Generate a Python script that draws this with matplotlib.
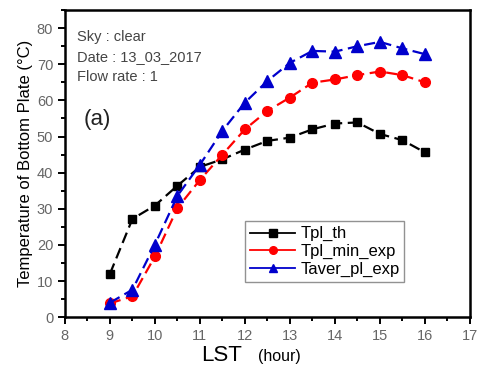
import matplotlib
matplotlib.use("Agg")
import matplotlib.pyplot as plt
from matplotlib.lines import Line2D
from matplotlib.ticker import MultipleLocator

# data
lst = [9, 9.5, 10, 10.5, 11, 11.5, 12, 12.5, 13, 13.5, 14, 14.5, 15, 15.5, 16]
tpl_th = [12.0, 27.2, 30.9, 36.4, 41.6, 43.7, 46.4, 48.8, 49.7, 52.0, 53.6, 53.9, 50.7, 49.0, 45.6]
tpl_min_exp = [3.8, 5.8, 16.8, 30.2, 38.0, 45.0, 52.0, 57.1, 60.8, 64.9, 65.8, 67.0, 68.0, 67.0, 65.0]
taver_pl_exp = [4.0, 7.6, 20.1, 33.6, 42.2, 51.6, 59.4, 65.4, 70.4, 73.7, 73.5, 75.0, 76.2, 74.4, 72.8]

series = [
    ("Tpl_th", tpl_th, "black", "s", 6),
    ("Tpl_min_exp", tpl_min_exp, "red", "o", 7),
    ("Taver_pl_exp", taver_pl_exp, "#0000cc", "^", 8),
]

plt.rcParams["font.family"] = ["Liberation Sans", "DejaVu Sans"]

fig = plt.figure(figsize=(4.81, 3.74), dpi=100)
ax = fig.add_axes([0.135, 0.152, 0.842, 0.821])

handles = []
for name, vals, col, mk, ms in series:
    ax.plot(lst, vals, color=col, ls=(0, (5, 2.5)), lw=1.6,
            marker=mk, ms=ms, mec=col, mfc=col, zorder=3)
    handles.append(Line2D([], [], color=col, lw=1.3, marker=mk, ms=5.5,
                          mec=col, mfc=col, label=name))

ax.set_xlim(8, 17)
ax.set_ylim(0, 85)
ax.xaxis.set_major_locator(MultipleLocator(1))
ax.xaxis.set_minor_locator(MultipleLocator(0.5))
ax.yaxis.set_major_locator(MultipleLocator(10))
ax.yaxis.set_minor_locator(MultipleLocator(5))
ax.tick_params(which="both", direction="out", top=False, right=False,
               labelsize=10.5, labelcolor="#666666", width=1.4)
ax.tick_params(which="major", length=5)
ax.tick_params(which="minor", length=3)
for sp in ax.spines.values():
    sp.set_linewidth(1.8)

ax.set_ylabel("Temperature of Bottom Plate (\u00b0C)", fontsize=12, labelpad=3)
fig.text(0.46, 0.035, "LST", fontsize=16, ha="center", va="baseline")
fig.text(0.536, 0.035, "(hour)", fontsize=11.5, ha="left", va="baseline")

ax.text(0.03, 0.9, "Sky : clear", transform=ax.transAxes, fontsize=10.5, color="#444444")
ax.text(0.03, 0.835, "Date : 13_03_2017", transform=ax.transAxes, fontsize=10.5, color="#444444")
ax.text(0.03, 0.77, "Flow rate : 1", transform=ax.transAxes, fontsize=10.5, color="#444444")
ax.text(0.045, 0.625, "(a)", transform=ax.transAxes, fontsize=16, color="#222222")

leg = ax.legend(handles=handles, loc="upper left", bbox_to_anchor=(0.445, 0.312),
                fontsize=12, frameon=True, fancybox=False, handlelength=2.7,
                handletextpad=0.3, borderpad=0.3, labelspacing=0.15,
                borderaxespad=0)
leg.get_frame().set_edgecolor("#777777")
leg.get_frame().set_linewidth(1.0)

fig.savefig("out.png", dpi=100)
